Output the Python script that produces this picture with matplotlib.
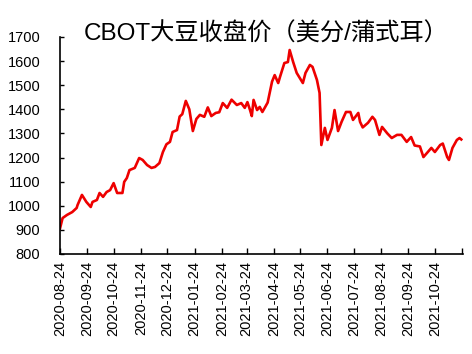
import matplotlib
matplotlib.use("Agg")
import matplotlib.pyplot as plt
import pandas as pd

plt.rcParams['font.family'] = ['Liberation Sans', 'Noto Sans CJK SC', 'DejaVu Sans']

# CBOT soybean close
dates = ["2020-08-24", "2020-08-27", "2020-09-01", "2020-09-07", "2020-09-12", "2020-09-13",
         "2020-09-18", "2020-09-23", "2020-09-28", "2020-09-30", "2020-10-05", "2020-10-08",
         "2020-10-12", "2020-10-16", "2020-10-20", "2020-10-24", "2020-10-28", "2020-11-03",
         "2020-11-05", "2020-11-08", "2020-11-11", "2020-11-17", "2020-11-22", "2020-11-26",
         "2020-12-01", "2020-12-06", "2020-12-10", "2020-12-15", "2020-12-19", "2020-12-23",
         "2020-12-27", "2020-12-30", "2021-01-04", "2021-01-07", "2021-01-10", "2021-01-14",
         "2021-01-18", "2021-01-22", "2021-01-26", "2021-01-30", "2021-02-04", "2021-02-08",
         "2021-02-12", "2021-02-17", "2021-02-21", "2021-02-25", "2021-03-02", "2021-03-07",
         "2021-03-13", "2021-03-18", "2021-03-22", "2021-03-25", "2021-03-28", "2021-03-30",
         "2021-04-01", "2021-04-05", "2021-04-08", "2021-04-11", "2021-04-17", "2021-04-22",
         "2021-04-25", "2021-04-29", "2021-05-01", "2021-05-06", "2021-05-10", "2021-05-12",
         "2021-05-16", "2021-05-20", "2021-05-27", "2021-05-30", "2021-06-04", "2021-06-07",
         "2021-06-12", "2021-06-15", "2021-06-17", "2021-06-21", "2021-06-24", "2021-06-29",
         "2021-07-02", "2021-07-06", "2021-07-10", "2021-07-15", "2021-07-20", "2021-07-23",
         "2021-07-29", "2021-07-31", "2021-08-03", "2021-08-09", "2021-08-14", "2021-08-17",
         "2021-08-22", "2021-08-25", "2021-08-31", "2021-09-05", "2021-09-11", "2021-09-16",
         "2021-09-22", "2021-09-27", "2021-10-01", "2021-10-07", "2021-10-11", "2021-10-16",
         "2021-10-20", "2021-10-24", "2021-10-30", "2021-11-02", "2021-11-07", "2021-11-09",
         "2021-11-13", "2021-11-18", "2021-11-21", "2021-11-23"]
prices = [905, 949, 962, 974, 991, 1003,
          1045, 1016, 995, 1016, 1024, 1053,
          1037, 1057, 1065, 1094, 1053, 1053,
          1099, 1115, 1148, 1157, 1198, 1190,
          1169, 1157, 1161, 1177, 1223, 1255,
          1265, 1306, 1314, 1370, 1380, 1435,
          1400, 1310, 1360, 1377, 1369, 1408,
          1372, 1385, 1388, 1426, 1406, 1440,
          1418, 1426, 1406, 1430, 1397, 1372,
          1439, 1397, 1410, 1389, 1428, 1515,
          1542, 1509, 1534, 1592, 1596, 1646,
          1596, 1551, 1509, 1551, 1584, 1576,
          1522, 1468, 1252, 1323, 1273, 1323,
          1397, 1310, 1348, 1389, 1389, 1356,
          1385, 1348, 1325, 1344, 1369, 1356,
          1294, 1327, 1300, 1281, 1294, 1294,
          1265, 1285, 1250, 1246, 1202, 1223,
          1240, 1223, 1252, 1258, 1202, 1190,
          1240, 1273, 1281, 1275]

title = "CBOT大豆收盘价（美分/蒲式耳）"
tick_dates = pd.date_range("2020-08-01", "2021-11-01", freq="MS") + pd.Timedelta(days=23)

x = pd.to_datetime(dates)

fig = plt.figure(figsize=(4.72, 3.54), dpi=100)
ax = fig.add_axes([0.127, 0.2825, 0.854, 0.613])
ax.plot(x, prices, color='#EE0000', linewidth=1.9)

ax.set_ylim(800, 1700)
ax.set_yticks(range(800, 1701, 100))
ax.set_xlim(pd.Timestamp("2020-08-24"), pd.Timestamp("2021-11-25"))
ax.set_xticks(tick_dates)
labels = [d.strftime("%Y-%m-%d") for d in tick_dates]
labels[-1] = ""
ax.set_xticklabels(labels, rotation=90)

ax.spines['top'].set_visible(False)
ax.spines['right'].set_visible(False)
ax.spines['left'].set_linewidth(1.2)
ax.spines['bottom'].set_linewidth(1.2)
ax.tick_params(axis='both', direction='in', length=4, width=1.0, labelsize=10.5, pad=5)
ax.tick_params(axis='y', length=3, pad=14)

fig.text(0.565, 0.905, title, ha='center', va='center', fontsize=17.5,
         family=['Liberation Sans', 'Noto Sans CJK SC'])

fig.savefig("out.png", dpi=100)
